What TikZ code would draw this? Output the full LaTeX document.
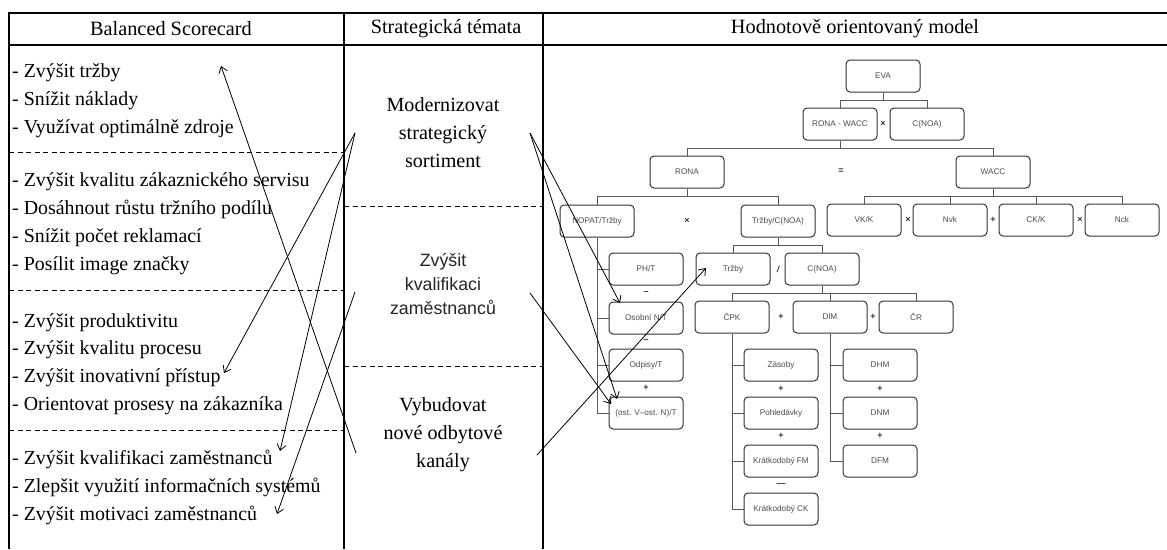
\documentclass[tikz,border=0pt]{standalone}
\usepackage{fontspec}
\setmainfont{Liberation Serif}
\newfontfamily\arialf{Liberation Sans}
\usetikzlibrary{arrows.meta}
\begin{document}
\begin{tikzpicture}[x=1pt,y=-1pt,
  tbl/.style={line width=1.3pt},
  sep/.style={dash pattern=on 5pt off 3.5pt, line width=0.9pt},
  hdr/.style={font=\fontsize{20.3}{22}\selectfont, inner sep=0pt},
  item/.style={anchor=west, font=\fontsize{19.9}{22}\selectfont, inner sep=0pt, text height=13pt, text depth=4pt},
  theme/.style={align=center, font=\fontsize{20.1}{28}\selectfont, inner sep=0pt},
  stheme/.style={align=center, font=\arialf\fontsize{17.8}{24}\selectfont, inner sep=0pt, text=black!85},
  box/.style={draw=black!80, line width=1pt, rounded corners=4pt, minimum width=74pt, minimum height=32pt, font=\arialf\fontsize{8.2}{9}\selectfont, text=black!70, inner sep=1pt},
  tree/.style={draw=black!65, line width=0.8pt},
  op/.style={font=\arialf\bfseries\fontsize{9}{9}\selectfont, text=black!80, inner sep=0pt},
  arr/.style={line width=0.8pt, -{Straight Barb[length=6pt,width=9pt]}},
]
\useasboundingbox (0,0) rectangle (1167,549);
\fill[white] (0,0) rectangle (1167,549);

% table frame
\draw[tbl] (1167,13) -- (9,13) -- (9,549);
\draw[tbl] (9,45) -- (1167,45);
\draw[tbl] (344,13) -- (344,549);
\draw[tbl] (543,13) -- (543,549);

% headers
\node[hdr] (h1) at (171,29) {Balanced Scorecard};
\node[hdr] (h2) at (446,29) {Strategická témata};
\node[hdr] (h3) at (855,29) {Hodnotově orientovaný model};

% dashed separators
\draw[sep] (9,152) -- (344,152);
\draw[sep] (9,290) -- (344,290);
\draw[sep] (9,430) -- (344,430);
\draw[sep] (344,206) -- (543,206);
\draw[sep] (344,366) -- (543,366);

% Balanced scorecard items
\node[item] (b1) at (12,73) {- Zvýšit tržby};
\node[item] (b2) at (12,101) {- Snížit náklady};
\node[item] (b3) at (12,129) {- Využívat optimálně zdroje};
\node[item] (b4) at (12,182) {- Zvýšit kvalitu zákaznického servisu};
\node[item] (b5) at (12,210) {- Dosáhnout růstu tržního podílu};
\node[item] (b6) at (12,238) {- Snížit počet reklamací};
\node[item] (b7) at (12,266) {- Posílit image značky};
\node[item] (b8) at (12,323) {- Zvýšit produktivitu};
\node[item] (b9) at (12,350) {- Zvýšit kvalitu procesu};
\node[item] (b10) at (12,378) {- Zvýšit inovativní přístup};
\node[item] (b11) at (12,406) {- Orientovat prosesy na zákazníka};
\node[item] (b12) at (12,460) {- Zvýšit kvalifikaci zaměstnanců};
\node[item] (b13) at (12,488) {- Zlepšit využití informačních systémů};
\node[item] (b14) at (12,516) {- Zvýšit motivaci zaměstnanců};

% strategic themes
\node[theme] (t1) at (443,133) {Modernizovat\\strategický\\sortiment};
\node[stheme] (t2) at (443,284) {Zvýšit\\kvalifikaci\\zaměstnanců};
\node[theme] (t3) at (443,435) {Vybudovat\\nové odbytové\\kanály};

% tree nodes
\node[box] (EVA) at (883,76) {EVA};
\node[box] (RW) at (840,124) {RONA - WACC};
\node[op] (o1) at (883,124) {×};
\node[box] (CN1) at (927,124) {C(NOA)};
\node[box] (RONA) at (687,172) {RONA};
\node[op] (o2) at (841,171) {=};
\node[box] (WACC) at (993,172) {WACC};
\node[box] (NOPAT) at (597,221) {NOPAT/Tržby};
\node[op] (o3) at (687,221) {×};
\node[box] (TC) at (778,221) {Tržby/C(NOA)};
\node[box] (VK) at (864,220) {VK/K};
\node[op] (o4) at (908,220) {×};
\node[box] (Nvk) at (950,220) {Nvk};
\node[op] (o5) at (993,220) {+};
\node[box] (CK) at (1036,220) {CK/K};
\node[op] (o6) at (1080,220) {×};
\node[box] (Nck) at (1122,220) {Nck};

\node[box] (PHT) at (646,269) {PH/T};
\node[op] (o7) at (646,293) {–};
\node[box] (ONT) at (646,318) {Osobní N/T};
\node[op] (o8) at (646,341) {–};
\node[box] (OdT) at (646,365) {Odpisy/T};
\node[op] (o9) at (646,388) {+};
\node[box] (OST) at (646,413) {(ost. V–ost. N)/T};

\node[box] (Trz) at (733,269) {Tržby};
\node[op] (o10) at (778,269) {\itshape /};
\node[box] (CN2) at (822,269) {C(NOA)};

\node[box] (CPK) at (732,317) {ČPK};
\node[op] (o11) at (781,317) {+};
\node[box] (DlM) at (830,317) {DlM};
\node[op] (o12) at (873,317) {+};
\node[box] (CR) at (916,317) {ČR};

\node[box] (Zas) at (781,365) {Zásoby};
\node[op] (o13) at (781,389) {+};
\node[box] (Poh) at (781,413) {Pohledávky};
\node[op] (o14) at (781,436) {+};
\node[box] (KFM) at (781,461) {Krátkodobý FM};
\node[op] (o15) at (781,485) {—};
\node[box] (KCK) at (781,509) {Krátkodobý CK};

\node[box] (DHM) at (880,365) {DHM};
\node[op] (o16) at (880,389) {+};
\node[box] (DNM) at (880,413) {DNM};
\node[op] (o17) at (880,436) {+};
\node[box] (DFM) at (880,461) {DFM};

% tree connectors
\draw[tree] (EVA.south) -- ++(0,8) coordinate (j1);
\draw[tree] (RW.north) |- (j1) -| (CN1.north);
\draw[tree] (RW.south) -- ++(0,8) coordinate (j2);
\draw[tree] (RONA.north) |- (j2) -| (WACC.north);
\draw[tree] (RONA.south) -- ++(0,8) coordinate (j3);
\draw[tree] (NOPAT.north) |- (j3) -| (TC.north);
\draw[tree] (WACC.south) -- ++(0,8) coordinate (j4);
\draw[tree] (VK.north) |- (j4) -| (Nck.north);
\draw[tree] (Nvk.north) -- (Nvk.north |- j4);
\draw[tree] (CK.north) -- (CK.north |- j4);
\draw[tree] (NOPAT.south) |- (OST.west);
\draw[tree] (NOPAT.south) |- (PHT.west);
\draw[tree] (NOPAT.south) |- (ONT.west);
\draw[tree] (NOPAT.south) |- (OdT.west);
\draw[tree] (TC.south) -- ++(0,8) coordinate (j5);
\draw[tree] (Trz.north) |- (j5) -| (CN2.north);
\draw[tree] (CN2.south) -- ++(0,8) coordinate (j6);
\draw[tree] (CPK.north) |- (j6) -| (CR.north);
\draw[tree] (DlM.north) -- (DlM.north |- j6);
\draw[tree] (CPK.south) |- (KCK.west);
\draw[tree] (CPK.south) |- (Zas.west);
\draw[tree] (CPK.south) |- (Poh.west);
\draw[tree] (CPK.south) |- (KFM.west);
\draw[tree] (DlM.south) |- (DFM.west);
\draw[tree] (DlM.south) |- (DHM.west);
\draw[tree] (DlM.south) |- (DNM.west);

% arrow end points
\coordinate (aA) at (356,453);
\coordinate (zA) at (221,66);
\coordinate (aB) at (355,133);
\coordinate (zB) at (224,373);
\coordinate (zC) at (280,451);
\coordinate (aD) at (355,292);
\coordinate (zD) at (277,514);
\coordinate (aE) at (530,133);
\coordinate (zE) at (620,303);
\coordinate (zF) at (617,399);
\coordinate (aG) at (530,293);
\coordinate (zG) at (611,404);
\coordinate (aH) at (537,455);
\coordinate (zH) at (706,268);

\draw[arr] (aA) -- (zA);
\draw[arr] (aB) -- (zB);
\draw[arr] (aB) -- (zC);
\draw[arr] (aD) -- (zD);
\draw[arr] (aE) -- (zE);
\draw[arr] (aE) -- (zF);
\draw[arr] (aG) -- (zG);
\draw[arr] (aH) -- (zH);
\end{tikzpicture}
\end{document}
